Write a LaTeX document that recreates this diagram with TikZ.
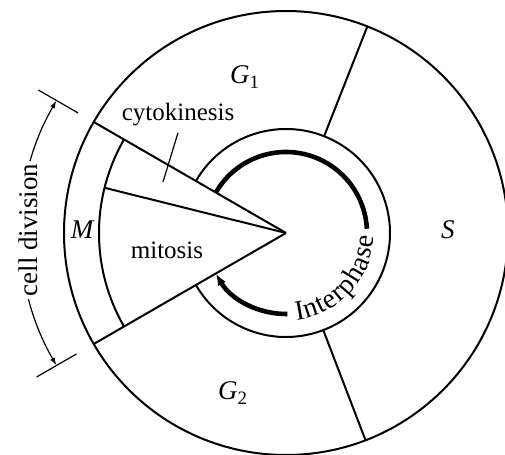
\documentclass[tikz,border=0pt]{standalone}
\usepackage{fontspec}
\setmainfont{Liberation Serif}
\usetikzlibrary{arrows.meta, decorations.text, positioning}
\tikzset{
    outline/.style={line width=1pt},
    cyclearc/.style={line width=2.3pt},
    dimline/.style={line width=0.6pt},
    stagetext/.style={font=\fontsize{13.5}{15}\selectfont\itshape, inner sep=0pt},
    parttext/.style={font=\fontsize{12.5}{14}\selectfont, inner sep=0pt},
    dimtext/.style={font=\fontsize{13.5}{16}\selectfont, inner sep=1.5pt, fill=white, rotate=90}
}

\begin{document}
\begin{tikzpicture}[x=0.5pt, y=0.5pt]
    \useasboundingbox (-286,-222) rectangle (219,233);

    % Outer circle and phase boundaries
    \draw[outline] (0,0) circle (222);
    \draw[outline] (68.5:104) -- (68.5:222);
    \draw[outline] (-69:104) -- (-69:222);

    % Interphase ring (broken by the M wedge)
    \draw[outline] (150:104) arc[start angle=150, end angle=-150, radius=104];

    % M wedge
    \draw[outline] (0,0) -- (150:222);
    \draw[outline] (0,0) -- (210:222);
    \draw[outline] (0,0) -- (166:187);
    \draw[outline] (150:187) arc[start angle=150, end angle=210, radius=187];

    % Interphase arrow with text along the circle
    \draw[cyclearc] (150:81) arc[start angle=150, end angle=3, radius=81];
    \draw[cyclearc, -{Latex[length=6pt, width=4.5pt]}] (-89:81) arc[start angle=-89, end angle=-150, radius=81];
    \path[decorate, decoration={text along path, text align=fit to path,
        text={|\fontsize{14}{16}\selectfont|Interphase}}]
        (-83:88) arc[start angle=-83, end angle=-2, radius=88];

    % Phase labels
    \node[stagetext] (g1) at (-41,156) {G\textsubscript{\upshape 1}};
    \node[stagetext] (s) at (162,3) {S};
    \node[stagetext] (g2) at (-53,-160) {G\textsubscript{\upshape 2}};
    \node[stagetext] (m) at (-204,3) {M};
    \node[parttext] (mitosis) at (-119,-17) {mitosis};
    \node[parttext] (cyto) at (-108,118) {cytokinesis};
    \coordinate (cytotip) at (-123,51);
    \draw[dimline] ([yshift=-3pt]cyto.south) -- (cytotip);

    % Cell division dimension
    \draw[dimline] (150:240) -- (150:286);
    \draw[dimline] (210:242) -- (210:288);
    \draw[dimline, {Latex[length=4pt, width=2.5pt]}-{Latex[length=4pt, width=2.5pt]}]
        (150:265) arc[start angle=150, end angle=210, radius=265];
    \node[dimtext] (celldiv) at (-258,3) {cell division};
\end{tikzpicture}
\end{document}
